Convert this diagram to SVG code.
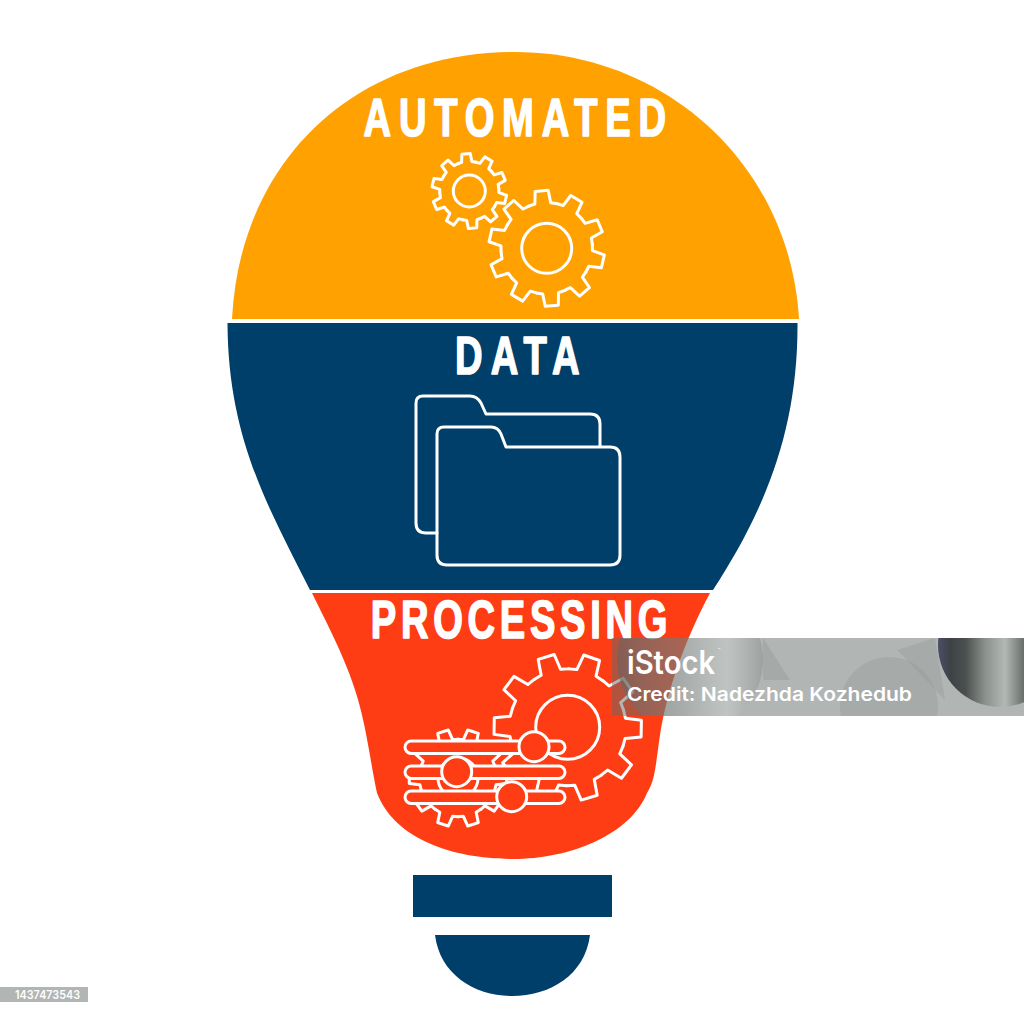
<svg xmlns="http://www.w3.org/2000/svg" width="1024" height="1015" viewBox="0 0 1024 1015">
<style>
.ln{stroke:#fff;stroke-width:3;stroke-linejoin:round;stroke-linecap:round;vector-effect:non-scaling-stroke}
.no{fill:none}
.rd{fill:#FF3D14}
.t{font-family:"Liberation Sans",Arial,sans-serif;font-weight:700;font-size:53px;fill:#fff;stroke:#fff;stroke-width:1.6;stroke-linejoin:round}
.w{font-family:Inter,"Liberation Sans",sans-serif;fill:#fff}
</style>
<defs>
<path id="tooth" class="ln" d="M-24.4-75.1L-13.7-77.8L-11.3-99.4H11.3L13.7-77.8L24.4-75.1"/>
<g id="gear">
<circle r="76"/>
<use href="#tooth"/>
<use href="#tooth" transform="rotate(36)"/>
<use href="#tooth" transform="rotate(72)"/>
<use href="#tooth" transform="rotate(108)"/>
<use href="#tooth" transform="rotate(144)"/>
<use href="#tooth" transform="rotate(180)"/>
<use href="#tooth" transform="rotate(216)"/>
<use href="#tooth" transform="rotate(252)"/>
<use href="#tooth" transform="rotate(288)"/>
<use href="#tooth" transform="rotate(324)"/>
</g>
<linearGradient id="gl" x1="0" x2="1" y1="0" y2="0"><stop offset="0" stop-color="#5d6362" stop-opacity=".55"/><stop offset=".45" stop-color="#8a908e" stop-opacity=".25"/><stop offset=".75" stop-color="#f0f4f2" stop-opacity=".22"/><stop offset="1" stop-color="#6c7271" stop-opacity=".3"/></linearGradient>
<linearGradient id="gd" x1="0" x2="1" y1="0" y2="0"><stop offset="0" stop-color="#4b4e66"/><stop offset=".1" stop-color="#3e4246"/><stop offset=".22" stop-color="#4a4f4e"/><stop offset=".38" stop-color="#8b918c"/><stop offset=".54" stop-color="#b2b8b3"/><stop offset=".69" stop-color="#6b706f"/></linearGradient>
<clipPath id="wm"><rect x="612" y="638" width="412" height="78"/></clipPath>
</defs>
<rect width="1024" height="1015" fill="#fff"/>

<g id="bulb-top">
<path fill="#FFA100" d="M232 319C240 160 355 52 515 52C665 52 790 165 799 319Z"/>
<text class="t" transform="scale(.72 1)" x="505" y="136.500" textLength="420">AUTOMATED</text>
<use href="#gear" fill="none" transform="translate(469.3 191) rotate(-5) scale(.375)"/>
<circle class="ln no" cx="469.3" cy="191" r="16"/>
<use href="#gear" fill="none" transform="translate(546.7 248.3) rotate(-5) scale(.58)"/>
<circle class="ln no" cx="546.7" cy="248.3" r="25"/>
</g>

<g id="bulb-middle">
<path fill="#003F69" d="M227.500 323H797.500C798 430 765 510 713 590H310C270 510 228 440 227.500 323Z"/>
<text class="t" transform="scale(.72 1)" x="632" y="374" textLength="173">DATA</text>
<path class="ln no" d="M437 533H426Q416 533 416 523V403Q416 396 423 396H470Q477 396 481 403L486 414H590Q600 414 600 424V446"/>
<path class="ln no" d="M437 555V434Q437 427 444 427H491Q498 427 501 434L506 447H610Q620 447 620 457V555Q620 565 610 565H447Q437 565 437 555Z"/>
</g>

<g id="bulb-bottom">
<path class="rd" d="M312 593H710C685 640 667 690 660 735C655 770 655 780 647 793C630 835 570 859 513 859C455 859 395 840 377 793C372 770 368 740 362 715C352 670 330 630 312 593Z"/>
<text class="t" transform="scale(.72 1)" x="515" y="638" textLength="412">PROCESSING</text>
<use href="#gear" fill="none" transform="translate(567.7 727.3) rotate(19) scale(.74)"/>
<circle class="ln no" cx="567.7" cy="727.3" r="32"/>
<use href="#gear" fill="#FF3D14" transform="translate(458 778) rotate(18) scale(.49)"/>
<circle class="ln no" cx="458" cy="778" r="20"/>
<rect class="ln rd" x="405" y="741" width="160" height="12.5" rx="6.2"/>
<rect class="ln rd" x="405" y="766" width="160" height="12.5" rx="6.2"/>
<rect class="ln rd" x="405" y="791" width="160" height="12.5" rx="6.2"/>
<circle class="ln rd" cx="534" cy="746.7" r="15"/>
<circle class="ln rd" cx="456.7" cy="771.7" r="15"/>
<circle class="ln rd" cx="511.7" cy="796.7" r="15"/>
</g>

<g id="bulb-base">
<rect x="413" y="875" width="199" height="42" fill="#003F69"/>
<path fill="#003F69" d="M435 935H590C585 975 550 996 512 996C475 996 440 975 435 935Z"/>
</g>

<g id="watermark">
<rect x="612" y="638" width="412" height="78" fill="#636b6a" opacity=".5"/>
<g clip-path="url(#wm)">
<circle cx="690" cy="660" r="73" fill="url(#gl)"/>
<path d="M763 638L790 680H763Z" fill="#8f9594" opacity=".35"/>
<path d="M897 650L935 638L945 700Z" fill="#8f9594" opacity=".3"/>
<circle cx="889" cy="706" r="49" fill="#8f9594" opacity=".3"/>
<circle cx="1000" cy="645" r="62" fill="url(#gd)"/>
</g>
<text class="w" x="627" y="674" font-size="32" font-weight="600" textLength="88" lengthAdjust="spacingAndGlyphs">iStock</text>
<text class="w" x="718" y="651" font-size="4">™</text>
<text class="w" x="627" y="701" font-size="19" font-weight="600" textLength="285" lengthAdjust="spacingAndGlyphs">Credit: Nadezhda Kozhedub</text>
</g>

<g id="image-id">
<rect x="0" y="987" width="88" height="15" fill="#b1b5b4"/>
<text class="w" x="15" y="999" font-size="12" font-weight="600" textLength="65" lengthAdjust="spacingAndGlyphs">1437473543</text>
</g>
</svg>
